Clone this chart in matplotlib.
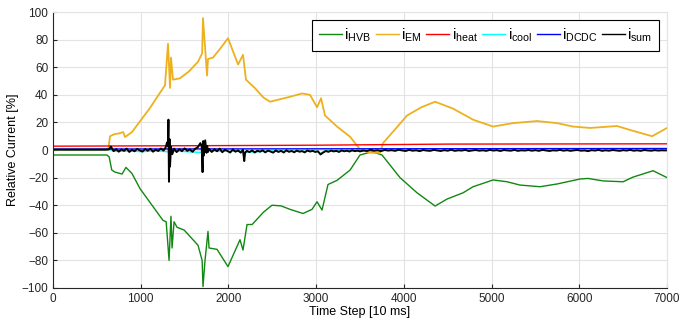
import matplotlib.pyplot as plt

plt.rcParams['font.family'] = ['Liberation Sans', 'DejaVu Sans']

# currents relative to nominal
hvb_t = [0, 615, 640, 670, 707, 787, 832, 900, 992, 1254, 1290, 1323, 1345, 1357, 1380,
         1414, 1495, 1653, 1700, 1710, 1733, 1767, 1779, 1870, 1995, 2132, 2166, 2212,
         2270, 2400, 2497, 2600, 2702, 2850, 2953, 3010, 3067, 3135, 3238, 3387, 3500, 3637,
         3751, 3956, 4150, 4356, 4493, 4675, 4789, 5017, 5176, 5324, 5553, 5747, 6009,
         6100, 6271, 6499, 6614, 6841, 7000]
hvb_v = [-3.6, -3.6, -5, -14.5, -16, -17.4, -12.6, -17, -28, -51, -52, -80, -48, -71, -52,
         -56, -58, -69, -80, -99, -80, -59, -71, -72, -84.5, -65, -72.5, -54,
         -54, -45, -40, -40.5, -43, -46, -43, -37.5, -43.5, -25, -22, -14.5, -3.6, -1.2,
         -3.6, -20, -31, -40.6, -35.5, -31, -26.6, -21.7, -23, -25.4, -26.6, -24.6, -21,
         -20.6, -22.4, -23, -19.6, -15, -20]

em_t = [0, 630, 650, 700, 750, 800, 821, 900, 1100, 1277, 1311, 1334, 1345, 1368, 1448,
        1550, 1653, 1700, 1710, 1756, 1767, 1824, 1900, 1995, 2110, 2166, 2200, 2300,
        2400, 2474, 2600, 2702, 2839, 2930, 3010, 3056, 3101, 3238, 3387, 3500, 3615,
        3730, 3762, 3900, 4036, 4200, 4356, 4561, 4789, 5017, 5245, 5519, 5747, 5929,
        6123, 6430, 6580, 6830, 7000]
em_v = [0, 0, 10, 11.5, 12, 13, 9.4, 13, 30, 47, 77, 45, 67, 51, 52,
        57, 64, 70, 95.6, 54, 66, 67, 73, 81, 62, 69, 51, 45,
        38, 35, 37, 38.6, 41, 40, 31, 37.5, 25, 17, 9.6, 0.5, -2,
        -2, 5, 15, 25, 31, 35, 30, 22, 17, 19.5, 21, 19.5, 17,
        16, 17.4, 14.5, 10, 16]

heat_t = [0, 1500, 3000, 4500, 7000]
heat_v = [2.8, 3.1, 3.5, 4.3, 4.5]

cool_t = [0, 650, 700, 900, 1000, 1200, 1330, 1400, 1700, 1750, 2000, 2150, 2200, 2500,
          2800, 3000, 3050, 3100, 3400, 3500, 3700, 4000, 7000]
cool_v = [0.3, 0.3, -1.0, -0.8, -1.2, -0.6, -1.5, -0.8, -1.8, -0.6, -1.0, -0.8, -1.6, -0.7,
          -0.9, -0.8, -2.5, -0.6, -0.3, -1.0, -0.4, -0.2, -0.1]

dcdc_t = [0, 3500, 7000]
dcdc_v = [0.7, 0.9, 1.1]

sum_t = [0, 600, 640, 660, 690, 720, 750, 780, 810, 840, 870, 900, 930, 960, 990, 1020,
         1050, 1080, 1110, 1140, 1170, 1200, 1230, 1260, 1285, 1300, 1310, 1316, 1322,
         1328, 1334, 1345, 1360, 1380, 1410, 1440, 1470, 1500, 1530, 1560, 1590, 1620,
         1650, 1680, 1695, 1705, 1712, 1720, 1735, 1750, 1758, 1765, 1780, 1810, 1840,
         1870, 1900, 1930, 1960, 1990, 2020, 2050, 2080, 2110, 2140, 2165, 2180, 2190,
         2210, 2240, 2270, 2300, 2330, 2360, 2390, 2420, 2450, 2480, 2510, 2540, 2570,
         2600, 2630, 2660, 2690, 2720, 2750, 2780, 2810, 2840, 2870, 2900, 2930, 2960,
         2990, 3020, 3050, 3080, 3110, 3140, 3170, 3200, 3230, 3260, 3290, 3320, 3350,
         3380, 3410, 3440, 3470, 3500, 3540, 3580, 3620, 3660, 3700, 3740, 3780, 3820,
         3860, 3900, 3940, 3980, 4020, 4060, 4100, 4140, 4180, 4220, 4260, 4300, 4340,
         4380, 4420, 4460, 4500, 4540, 4580, 4620, 4660, 4700, 4740, 4780, 4820, 4860,
         4900, 4940, 4980, 5020, 5060, 5100, 5140, 5180, 5220, 5260, 5300, 5340, 5380,
         5420, 5460, 5500, 5540, 5580, 5620, 5660, 5700, 5740, 5780, 5820, 5860, 5900,
         5940, 5980, 6020, 6060, 6100, 6140, 6180, 6220, 6260, 6300, 6340, 6380, 6420,
         6460, 6500, 6540, 6580, 6620, 6660, 6700, 6740, 6780, 6820, 6860, 6900, 6940,
         6980, 7000]
sum_v = [0.3, 0.3, 0.5, 2.5, -0.8, 0.6, -1.2, 0.4, -0.6, 1.0, -1.4, 0.2, -0.9, 0.8, -0.3, -1.1,
         0.7, -0.5, 0.9, -1.2, 0.3, -0.7, 1.1, -0.4, 2.0, 5.5, 3.0, 22.0, -23.0,
         8.0, -12.0, 2.5, -3.0, 1.0, -1.5, 0.6, -0.8, 1.2, -0.6, 0.4, -1.3, 0.9,
         2.0, 5.0, 3.0, -16.0, 6.5, -4.0, 7.0, -2.0, 3.0, -1.5, 0.8, -1.4, 0.5,
         -0.9, 1.0, -1.6, 0.2, -0.7, -1.8, 0.4, -1.2, -0.3, -1.9, 0.2, -8.0, -2.0,
         -0.6, -1.5, -0.3, -1.8, -0.5, -1.2, -0.2, -1.7, -0.4, -1.1, -1.9, -0.3, -1.4,
         -0.6, -1.8, -0.2, -1.3, -0.7, -1.6, -0.4, -1.2, -0.8, -1.7, -0.3, -1.1, -0.6,
         -1.4, -0.9, -3.2, -1.8, -0.7, -1.3, -0.4, -1.0, -0.6, -1.4, -0.3, -0.9, -0.5,
         -1.1, -0.2, -0.8, -0.4, -1.0, -0.3, -0.7, 0.2, -0.5, -0.2, -0.8, 0.1, -0.4,
         -0.1, -0.6, 0.2, -0.3, -0.7, 0.1, -0.5, -0.2, -0.8, 0.0, -0.4, -0.6, 0.1,
         -0.3, -0.7, -0.1, -0.5, 0.2, -0.6, -0.2, -0.4, 0.1, -0.7, -0.3, 0.0, -0.5,
         -0.2, -0.6, 0.1, -0.4, -0.1, -0.7, 0.0, -0.3, -0.5, 0.1, -0.6, -0.2, -0.4,
         0.0, -0.5, -0.1, -0.6, 0.1, -0.3, -0.7, -0.2, -0.4, 0.1, -0.5, -0.1, -0.6,
         -0.2, 0.0, -0.5, -0.3, -0.8, -0.1, -0.4, 0.1, -0.6, -0.2, -0.5, 0.0, -0.3,
         -0.6, -0.1, -0.4, 0.1, -0.5, -0.2, -0.6, 0.0, -0.3, -0.5, -0.1, -0.4, -0.2,
         -0.3, -0.2]

labels = [r'$\mathregular{i_{HVB}}$', r'$\mathregular{i_{EM}}$', r'$\mathregular{i_{heat}}$',
          r'$\mathregular{i_{cool}}$', r'$\mathregular{i_{DCDC}}$', r'$\mathregular{i_{sum}}$']

fig = plt.figure(figsize=(6.92, 3.26), dpi=100)
ax = fig.add_axes([0.0766, 0.1166, 0.8873, 0.8464])

ax.plot(hvb_t, hvb_v, color='#118811', lw=1.0, label=labels[0])
ax.plot(em_t, em_v, color='#EDB120', lw=1.3, label=labels[1])
ax.plot(heat_t, heat_v, color='#FF0000', lw=1.0, label=labels[2])
ax.plot(cool_t, cool_v, color='#00FFFF', lw=1.0, label=labels[3])
ax.plot(dcdc_t, dcdc_v, color='#0000FF', lw=1.0, label=labels[4])
ax.plot(sum_t, sum_v, color='black', lw=1.4, label=labels[5])

ax.set_xlim(0, 7000)
ax.set_ylim(-100, 100)
ax.set_xticks(range(0, 7001, 1000))
ax.set_yticks(range(-100, 101, 20))
ax.grid(True, color='#e3e3e3', lw=0.8)
ax.set_axisbelow(True)
ax.tick_params(direction='in', length=3, labelsize=8.5, colors='#262626')
for s in ['top', 'right']:
    ax.spines[s].set_color('#e3e3e3')
for s in ['left', 'bottom']:
    ax.spines[s].set_color('#262626')
ax.set_xlabel('Time Step [10 ms]', fontsize=9, labelpad=1)
ax.set_ylabel('Relative Current [%]', fontsize=9, labelpad=2)

leg = ax.legend(loc='upper right', ncol=6, fontsize=11, handlelength=1.5, handletextpad=0.15,
                columnspacing=0.3, borderpad=0.45, fancybox=False,
                framealpha=1, edgecolor='black', bbox_to_anchor=(1.0, 1.0))
leg.get_frame().set_linewidth(0.8)
for h in leg.get_lines():
    h.set_linewidth(1.0)

plt.savefig('out.png', dpi=100)
